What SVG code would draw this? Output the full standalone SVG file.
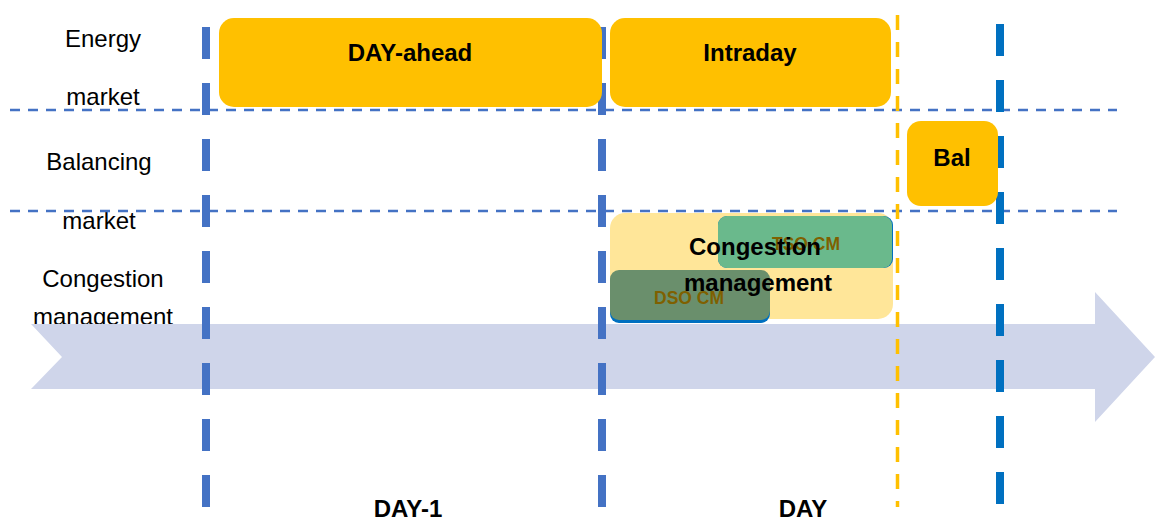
<svg xmlns="http://www.w3.org/2000/svg" width="1155" height="521" viewBox="0 0 1155 521">
<style>
.lbl{font-family:"Liberation Sans",Arial,sans-serif;font-size:24px;fill:#000;text-anchor:middle}
.b{font-weight:bold}
.cm{font-family:"Liberation Sans",Arial,sans-serif;font-size:17.5px;font-weight:bold;fill:#7F6000;text-anchor:middle}
.vline{stroke:#4472C4;stroke-width:8;stroke-dasharray:32 24;fill:none}
.hline{stroke:#4472C4;stroke-width:2.5;stroke-dasharray:10 8;fill:none}
.box{fill:#FFC000}
</style>
<rect width="1155" height="521" fill="#fff"/>
<g id="row-labels">
<text class="lbl" x="103" y="47">Energy</text>
<text class="lbl" x="103" y="105">market</text>
<text class="lbl" x="99" y="170">Balancing</text>
<text class="lbl" x="99" y="229">market</text>
<text class="lbl" x="103" y="287">Congestion</text>
<text class="lbl" x="103" y="325">management</text>
</g>
<g id="timeline-arrow">
<polygon points="31,324 1095,324 1095,292 1155,357 1095,422 1095,389 31,389 62,357" fill="#CFD5EA"/>
</g>
<g id="connectors">
<line class="hline" x1="10" y1="110" x2="1117" y2="110"/>
<line class="hline" x1="10" y1="211" x2="1117" y2="211"/>
<line class="vline" x1="206" y1="27" x2="206" y2="507"/>
<line class="vline" x1="602" y1="27" x2="602" y2="507"/>
<line class="vline" x1="1000" y1="24" x2="1000" y2="507" style="stroke:#0070C0"/>
<line x1="897.5" y1="15" x2="897.5" y2="507" stroke="#FFC000" stroke-width="3.5" stroke-dasharray="15 12"/>
</g>
<g id="day-ahead">
<rect class="box" x="219" y="18" width="383" height="89" rx="15"/>
<text class="lbl b" x="410" y="61">DAY-ahead</text>
</g>
<g id="intraday">
<rect class="box" x="610" y="18" width="281" height="89" rx="15"/>
<text class="lbl b" x="750" y="61">Intraday</text>
</g>
<g id="bal">
<rect class="box" x="907" y="121" width="91" height="85" rx="14"/>
<text class="lbl b" x="952" y="166">Bal</text>
</g>
<g id="congestion-management">
<rect x="610" y="213" width="283" height="106" rx="15" fill="#FFE699"/>
</g>
<g id="tso-cm">
<rect x="718" y="216" width="175" height="52" rx="9" fill="#0070C0"/>
<rect x="718" y="216" width="174" height="52" rx="9" fill="#6AB98C"/>
<text class="cm" x="806" y="250">TSO CM</text>
</g>
<g id="dso-cm">
<rect x="610" y="273" width="160" height="50" rx="9" fill="#0070C0"/>
<rect x="610" y="270" width="160" height="50" rx="9" fill="#6A8F6C"/>
<text class="cm" x="689" y="304">DSO CM</text>
</g>
<g id="cm-label">
<text class="lbl b" x="755" y="255">Congestion</text>
<text class="lbl b" x="758" y="291">management</text>
</g>
<g id="day-labels">
<text class="lbl b" x="408" y="517">DAY-1</text>
<text class="lbl b" x="803" y="517">DAY</text>
</g>
</svg>
